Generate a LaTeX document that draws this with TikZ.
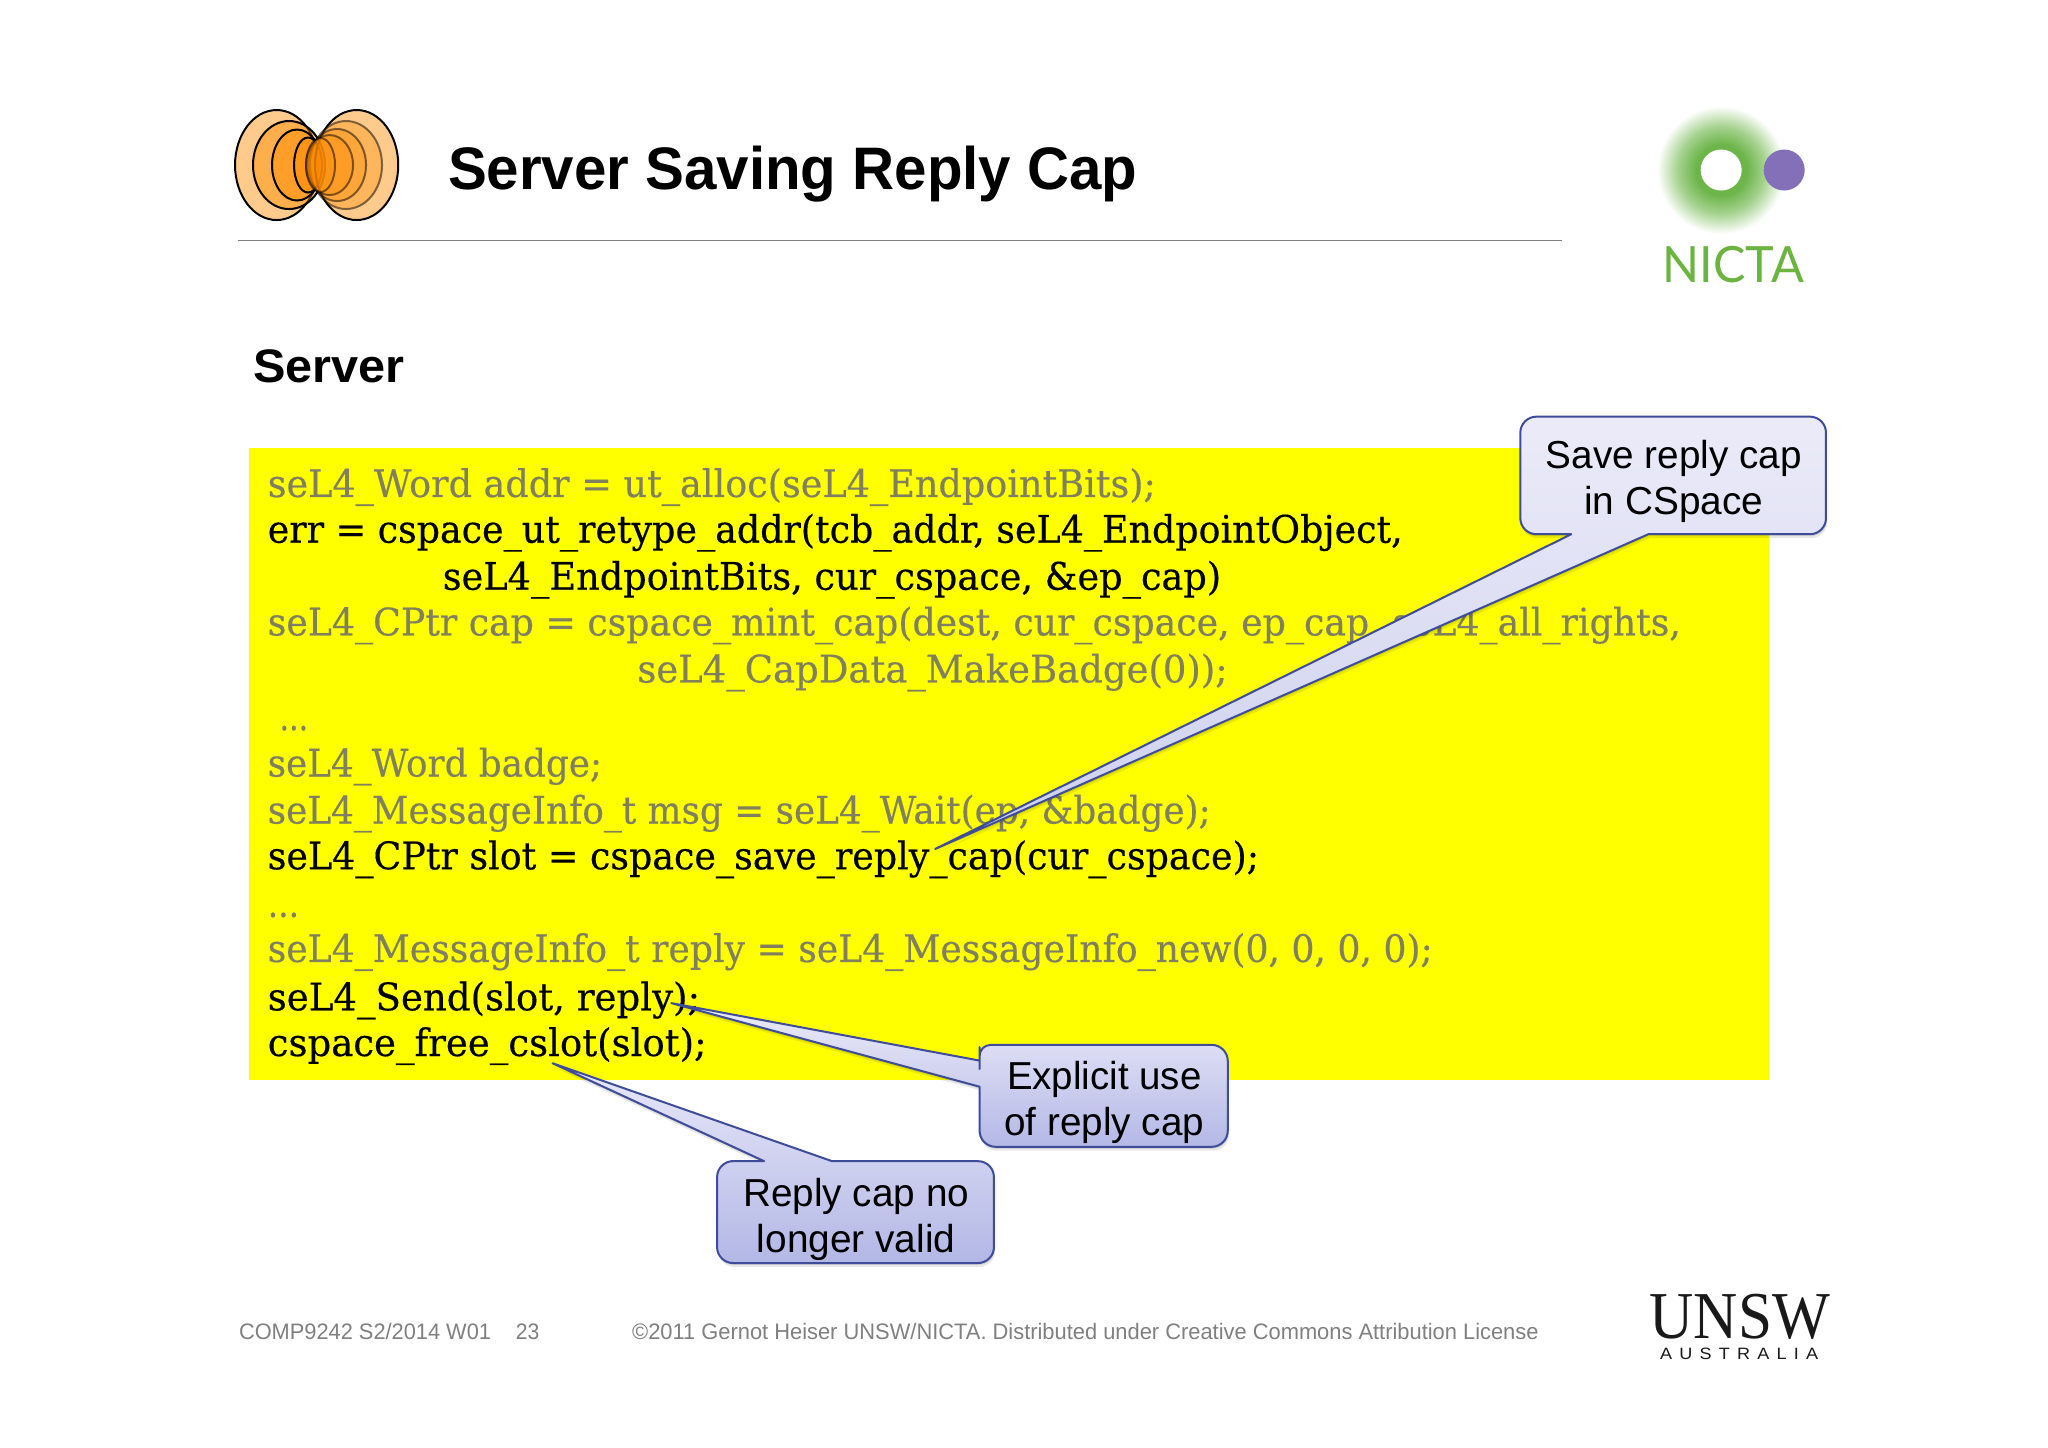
\documentclass[tikz,border=0pt]{standalone}
\usepackage{graphicx}
\usepackage{fontspec}
\setmainfont{Liberation Sans}
\newfontfamily\codefont[FakeBold=0.35]{DejaVu Serif}
\newfontfamily\latof{Lato}
\newfontfamily\unswf{Liberation Serif}
\newfontfamily\unswsp[LetterSpace=40]{Liberation Sans}
\definecolor{glowgreen}{HTML}{6DB54A}
\definecolor{glowmid}{HTML}{A5D28F}
\definecolor{glowpale}{HTML}{DDEED4}
\definecolor{nictagreen}{HTML}{6CB33F}
\definecolor{nictapurple}{HTML}{8470B8}
\definecolor{greytext}{HTML}{808080}
\definecolor{codegrey}{HTML}{808060}
\definecolor{panelyellow}{RGB}{255,255,0}
\definecolor{calloutedge}{HTML}{3F4C9A}
\definecolor{logoorange}{HTML}{FF8C00}
\definecolor{saveTop}{HTML}{EBEBF8}
\definecolor{saveBot}{HTML}{CDD0EF}
\definecolor{expTop}{HTML}{EDEDFA}
\definecolor{expBot}{HTML}{B4B8E6}
\definecolor{repTop}{HTML}{E9E9F9}
\definecolor{repBot}{HTML}{B3B7E5}
\pgfdeclareradialshading{nictaglow}{\pgfpoint{0bp}{0bp}}{color(0bp)=(glowgreen); color(10bp)=(glowgreen); color(17bp)=(glowmid); color(22bp)=(glowpale); color(25bp)=(white); color(50bp)=(white)}
\newsavebox\fitbox
\newlength\fitlen
\newcommand\fitx[2]{\sbox\fitbox{#2}\setlength\fitlen{\wd\fitbox}\pgfmathsetmacro\fitfac{#1*0.653/\fitlen}\scalebox{\fitfac}[1]{\usebox\fitbox}}
\tikzset{
  txt/.style={inner sep=0pt,outer sep=0pt,anchor=base west},
  codeon/.style={txt,font=\codefont\fontsize{19}{19}\selectfont,text=black},
  codeoff/.style={txt,font=\codefont\fontsize{19}{19}\selectfont,text=codegrey},
  foot/.style={txt,font=\fontsize{11.2}{12}\selectfont,text=greytext},
  calltxt/.style={inner sep=0pt,outer sep=0pt,anchor=base,font=\fontsize{19.5}{20}\selectfont,text=black},
  callbox/.style={draw=calloutedge,line width=1pt,line join=round},
  callshadow/.style={fill=black,opacity=0.09},
  lobe/.style={draw=black,line width=1pt,fill=logoorange,fill opacity=0.45},
  lobeb/.style={draw=black,draw opacity=0.5,line width=1pt,fill=logoorange,fill opacity=0.35},
  rc/.style={rounded corners=8pt},
  rcs/.style={rounded corners=5.5pt},
}
\def\savepath{(1262,409) [rc] -- (1398,409) -- (1398,319) -- (1164,319) -- (1164,409) -- (1190,409) [sharp corners] -- (1203,409) -- (716,650) -- cycle}
\def\explicitpath{(750,832) [rc] -- (750,878) -- (940,878) -- (940,800) [rcs] -- (750,800) -- (750,810) [sharp corners] -- (750,812) -- (514,768) -- cycle}
\def\replypath{(637,889) [rc] -- (761,889) -- (761,967) -- (549,967) -- (549,889) -- (572,889) [sharp corners] -- (585,889) -- (423,814) -- cycle}
\begin{document}
\begin{tikzpicture}[x=0.653pt,y=-0.653pt]
\useasboundingbox (0,0) rectangle (1568,1107.9);
\fill[white] (0,0) rectangle (1568,1107.9);
% left logo
\begin{scope}[x=0.5pt,y=-0.5pt]
\draw[lobe] (276.6,165) ellipse [x radius=41.6,y radius=55];
\draw[lobe] (289,165) ellipse [x radius=36,y radius=44];
\draw[lobe] (297,165) ellipse [x radius=25,y radius=35.5];
\draw[lobe] (308,165) ellipse [x radius=14,y radius=27.5];
\draw[lobe] (356.6,165) ellipse [x radius=41.6,y radius=55];
\draw[lobeb] (346,165) ellipse [x radius=36,y radius=44];
\draw[lobeb] (337,165) ellipse [x radius=29,y radius=36];
\draw[lobeb] (329.5,165) ellipse [x radius=23.5,y radius=30];
\draw[lobeb] (320.5,165) ellipse [x radius=14.5,y radius=27];
\end{scope}
% title
\node[txt,font=\bfseries\fontsize{30}{34}\selectfont] (title) at (343,145.3) {\fitx{528}{Server Saving Reply Cap}};
\coordinate (ruleL) at (182,184);
\coordinate (ruleR) at (1196,184);
\draw[color=greytext,line width=0.8pt] (ruleL) -- (ruleR);
% NICTA logo
\begin{scope}[x=0.5pt,y=-0.5pt]
\shade[shading=nictaglow] (1721,170) circle [radius=64];
\fill[white] (1721,170) circle [radius=20.5];
\fill[nictapurple] (1784,170) circle [radius=20.5];
\end{scope}
\node[txt,font=\latof\fontsize{25}{25}\selectfont,text=nictagreen] (nicta) at (1273,216) {\fitx{108}{NICTA}};
% heading
\node[txt,font=\bfseries\fontsize{23.5}{25}\selectfont] (server) at (194,293) {\fitx{116}{Server}};
% code panel
\fill[panelyellow] (191,343) rectangle (1354,826.5);
\node[codeoff] (l1) at (205,380.5) {\fitx{680}{seL4\_Word addr = ut\_alloc(seL4\_EndpointBits);}};
\node[codeon] (l2) at (205,415.5) {\fitx{869}{err = cspace\_ut\_retype\_addr(tcb\_addr, seL4\_EndpointObject,}};
\node[codeon] (l3) at (339,451.5) {\fitx{596}{seL4\_EndpointBits, cur\_cspace, \&ep\_cap)}};
\node[codeoff] (l4) at (205,486.5) {\fitx{1082}{seL4\_CPtr cap = cspace\_mint\_cap(dest, cur\_cspace, ep\_cap, seL4\_all\_rights,}};
\node[codeoff] (l5) at (488,522.5) {\fitx{452}{seL4\_CapData\_MakeBadge(0));}};
\node[codeoff] (l6) at (214,559) {\fitx{22}{...}};
\node[codeoff] (l7) at (205,594.5) {\fitx{256}{seL4\_Word badge;}};
\node[codeoff] (l8) at (205,630.5) {\fitx{722}{seL4\_MessageInfo\_t msg = seL4\_Wait(ep, \&badge);}};
\node[codeon] (l9) at (205,665.5) {\fitx{759}{seL4\_CPtr slot = cspace\_save\_reply\_cap(cur\_cspace);}};
\node[codeoff] (l10) at (205,702) {\fitx{24}{...}};
\node[codeoff] (l11) at (205,736.5) {\fitx{892}{seL4\_MessageInfo\_t reply = seL4\_MessageInfo\_new(0, 0, 0, 0);}};
\node[codeon] (l12) at (205,773.5) {\fitx{331}{seL4\_Send(slot, reply);}};
\node[codeon] (l13) at (205,808.5) {\fitx{336}{cspace\_free\_cslot(slot);}};
% callouts
\begin{scope}[shift={(1,3)}]\fill[callshadow] \savepath;\fill[callshadow] \explicitpath;\fill[callshadow] \replypath;\end{scope}
\begin{scope}[shift={(0.5,1.5)}]\fill[callshadow] \savepath;\fill[callshadow] \explicitpath;\fill[callshadow] \replypath;\end{scope}
\path[callbox,top color=saveTop,bottom color=saveBot] \savepath;
\path[callbox,top color=expTop,bottom color=expBot] \explicitpath;
\path[callbox,top color=repTop,bottom color=repBot] \replypath;
\node[calltxt] (save1) at (1281.5,359) {\fitx{196}{Save reply cap}};
\node[calltxt] (save2) at (1281.5,394) {\fitx{137}{in CSpace}};
\node[calltxt] (exp1) at (845.5,834) {\fitx{149}{Explicit use}};
\node[calltxt] (exp2) at (845.5,869) {\fitx{153}{of reply cap}};
\node[calltxt] (rep1) at (655.5,924) {\fitx{173}{Reply cap no}};
\node[calltxt] (rep2) at (655.5,959) {\fitx{152}{longer valid}};
% footer
\node[foot] (f1) at (183,1025.7) {\fitx{193}{COMP9242 S2/2014 W01}};
\node[foot] (f2) at (395,1025.7) {\fitx{18}{23}};
\node[foot] (f3) at (484,1025.7) {\fitx{694}{©2011 Gernot Heiser UNSW/NICTA. Distributed under Creative Commons Attribution License}};
% UNSW logo
\node[txt,font=\unswf\fontsize{33.5}{34}\selectfont,text=black!90] (unsw) at (1263,1025) {\fitx{138}{UNSW}};
\node[txt,font=\unswsp\fontsize{8.2}{9}\selectfont,text=black!90] (aust) at (1271,1041) {\fitx{121}{AUSTRALIA}};
\end{tikzpicture}
\end{document}
